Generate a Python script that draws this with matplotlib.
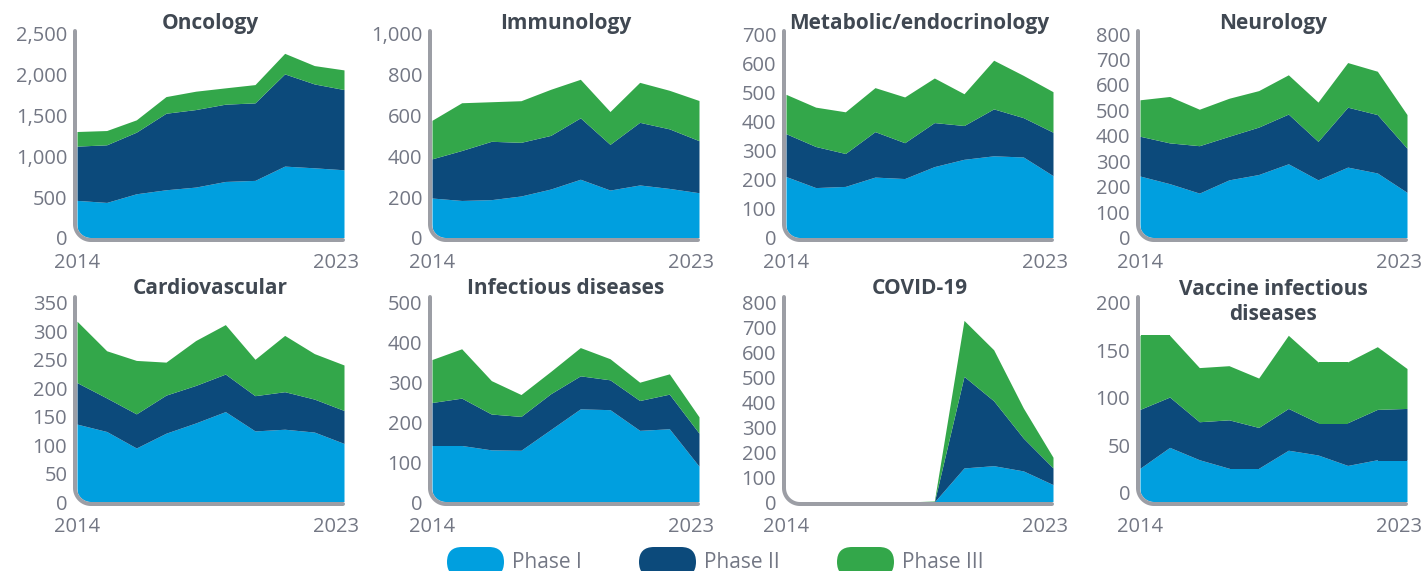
import numpy as np
import matplotlib
matplotlib.use("Agg")
import matplotlib.pyplot as plt
from matplotlib.path import Path
from matplotlib.patches import PathPatch, FancyBboxPatch
from matplotlib.ticker import FuncFormatter
from matplotlib.transforms import ScaledTranslation

plt.rcParams['font.family'] = ['Open Sans', 'DejaVu Sans']

# ---------------- data ----------------
years = np.arange(2014, 2024)
phase_labels = ["Phase I", "Phase II", "Phase III"]
phase_colors = ["#009FDF", "#0C4A7B", "#33A74A"]

titles = ["Oncology", "Immunology", "Metabolic/endocrinology", "Neurology",
          "Cardiovascular", "Infectious diseases", "COVID-19", "Vaccine infectious\ndiseases"]

oncology_p1 = [461, 436, 542, 591, 624, 693, 706, 881, 860, 836]
oncology_p2 = [665, 706, 755, 938, 950, 947, 950, 1130, 1028, 983]
oncology_p3 = [179, 175, 151, 204, 225, 200, 224, 252, 225, 241]

immunology_p1 = [196, 184, 188, 206, 240, 288, 235, 260, 243, 222]
immunology_p2 = [192, 245, 286, 263, 263, 301, 224, 307, 292, 255]
immunology_p3 = [189, 234, 194, 204, 226, 189, 161, 196, 189, 197]

metabolic_p1 = [211, 173, 177, 209, 204, 245, 270, 282, 278, 214]
metabolic_p2 = [147, 141, 113, 156, 123, 151, 116, 161, 135, 149]
metabolic_p3 = [135, 135, 143, 151, 157, 153, 109, 167, 145, 139]

neurology_p1 = [243, 213, 176, 228, 249, 291, 228, 278, 255, 179]
neurology_p2 = [156, 160, 186, 171, 186, 195, 151, 235, 229, 173]
neurology_p3 = [143, 182, 143, 149, 143, 154, 154, 175, 170, 132]

cardio_p1 = [137, 124, 95, 121, 139, 159, 125, 128, 123, 103]
cardio_p2 = [73, 59, 60, 67, 66, 66, 62, 66, 58, 58]
cardio_p3 = [108, 83, 94, 58, 79, 87, 64, 99, 80, 80]

infectious_p1 = [142, 142, 131, 130, 182, 234, 232, 180, 184, 90]
infectious_p2 = [108, 119, 90, 85, 90, 83, 75, 75, 87, 83]
infectious_p3 = [108, 124, 84, 55, 56, 71, 53, 46, 51, 41]

covid_p1 = [0, 0, 0, 0, 0, 0, 137, 146, 125, 70]
covid_p2 = [0, 0, 0, 0, 0, 0, 368, 261, 132, 67]
covid_p3 = [0, 0, 0, 0, 0, 4, 225, 205, 121, 43]

vaccine_p1 = [26, 48, 35, 26, 26, 45, 40, 29, 35, 35]
vaccine_p2 = [62, 53, 40, 51, 43, 44, 34, 45, 53, 54]
vaccine_p3 = [78, 65, 57, 57, 52, 77, 64, 64, 66, 42]

panel_data = [
    (oncology_p1, oncology_p2, oncology_p3),
    (immunology_p1, immunology_p2, immunology_p3),
    (metabolic_p1, metabolic_p2, metabolic_p3),
    (neurology_p1, neurology_p2, neurology_p3),
    (cardio_p1, cardio_p2, cardio_p3),
    (infectious_p1, infectious_p2, infectious_p3),
    (covid_p1, covid_p2, covid_p3),
    (vaccine_p1, vaccine_p2, vaccine_p3),
]
y_max = [2500, 1000, 700, 800, 350, 500, 800, 200]
y_step = [500, 200, 100, 100, 50, 100, 100, 50]
y_min = [0, 0, 0, 0, 0, 0, 0, -9.5]

# ---------------- layout (pixels) ----------------
W, H, DPI = 1425, 571, 100
fig = plt.figure(figsize=(W / DPI, H / DPI), dpi=DPI)
fig.patch.set_facecolor("white")

col_left = [77, 432, 786, 1140]
ax_w = 267
row_top = [34, 303]
row_bot = [238, 502]
row_ext = [3, 6]
title_dy = [5, 5, 5, 5, 9, 9, 9, -17]

spine_col = "#9C9EA5"
tick_col = "#737784"
title_col = "#404852"
r = 16.0
lw_px = 4.0


def px(p):
    return p / DPI


def arc(cx, cy, rad, a0, a1, n=20):
    t = np.radians(np.linspace(a0, a1, n))
    return list(zip(cx + rad * np.cos(t), cy + rad * np.sin(t)))


for i in range(8):
    row, col = divmod(i, 4)
    L = col_left[col]
    R = L + ax_w
    T = row_top[row]
    B = row_bot[row]
    ax = fig.add_axes([L / W, 1 - B / H, ax_w / W, (B - T) / H])
    ax.set_xlim(2014, 2023)
    ax.set_ylim(y_min[i], y_max[i])
    for s in ax.spines.values():
        s.set_visible(False)
    ax.set_facecolor("none")
    ax.set_xticks([])
    ax.set_yticks(np.arange(0, y_max[i] + 1, y_step[i]))
    ax.yaxis.set_major_formatter(FuncFormatter(lambda v, p: f"{int(v):,}"))
    ax.tick_params(axis="y", length=0, pad=7, labelsize=14.5, labelcolor=tick_col)

    # clip path (inner edge of rounded axis), in pixel coords with y up
    yb = H - B
    yt = H - T
    cx, cy = L - lw_px / 2 + r, yb - lw_px / 2 + r
    verts = [(L, yt + 40), (L, cy)] + arc(cx, cy, r - lw_px / 2, 180, 270) + \
            [(R + 5, yb), (R + 5, yt + 40), (L, yt + 40)]
    clip = Path([(px(x), px(y)) for x, y in verts])

    p1, p2, p3 = (np.array(a, dtype=float) for a in panel_data[i])
    base = np.full_like(p1, y_min[i])
    s1 = p1
    s2 = p1 + p2
    s3 = p1 + p2 + p3
    for lo, hi, c in [(base, s1, phase_colors[0]), (s1, s2, phase_colors[1]),
                      (s2, s3, phase_colors[2])]:
        coll = ax.fill_between(years, lo, hi, color=c, lw=0)
        coll.set_clip_path(clip, fig.dpi_scale_trans)

    # rounded axis line
    xl = L - lw_px / 2
    yl = yb - lw_px / 2
    sverts = [(xl, yt + row_ext[row]), (xl, yl + r)] + arc(xl + r, yl + r, r, 180, 270) + [(R - 1, yl)]
    spath = Path([(px(x), px(y)) for x, y in sverts])
    fig.add_artist(PathPatch(spath, transform=fig.dpi_scale_trans, fill=False,
                             edgecolor=spine_col, lw=lw_px * 72 / DPI,
                             capstyle="round", joinstyle="round"))

    # title
    off = ScaledTranslation(0, px(title_dy[i]), fig.dpi_scale_trans)
    ax.text(0.5, 1.0, titles[i], transform=ax.transAxes + off, ha="center", va="baseline",
            fontsize=15, fontweight="bold", color=title_col, linespacing=1.25)

    # x labels
    xt = ax.get_xaxis_transform()
    ax.text(2014, 0, "2014", transform=xt + ScaledTranslation(0, -px(30), fig.dpi_scale_trans),
            ha="center", va="baseline", fontsize=14.5, color=tick_col, clip_on=False)
    ax.text(2023, 0, "2023", transform=xt + ScaledTranslation(-px(8), -px(30), fig.dpi_scale_trans),
            ha="center", va="baseline", fontsize=14.5, color=tick_col, clip_on=False)

# ---------------- legend ----------------
pill_left = [447, 639, 837]
pill_w, pill_h = 57, 30
pill_top = 547
for lab, c, xl in zip(phase_labels, phase_colors, pill_left):
    fig.add_artist(FancyBboxPatch((px(xl), px(H - pill_top - pill_h)), px(pill_w), px(pill_h),
                                  boxstyle=f"round,pad=0,rounding_size={px(pill_h / 2)}",
                                  transform=fig.dpi_scale_trans, facecolor=c, edgecolor="none"))
    fig.text((xl + 65) / W, (H - 568) / H, lab, ha="left", va="baseline",
             fontsize=15, color=tick_col)

fig.savefig("out.png", dpi=DPI)
